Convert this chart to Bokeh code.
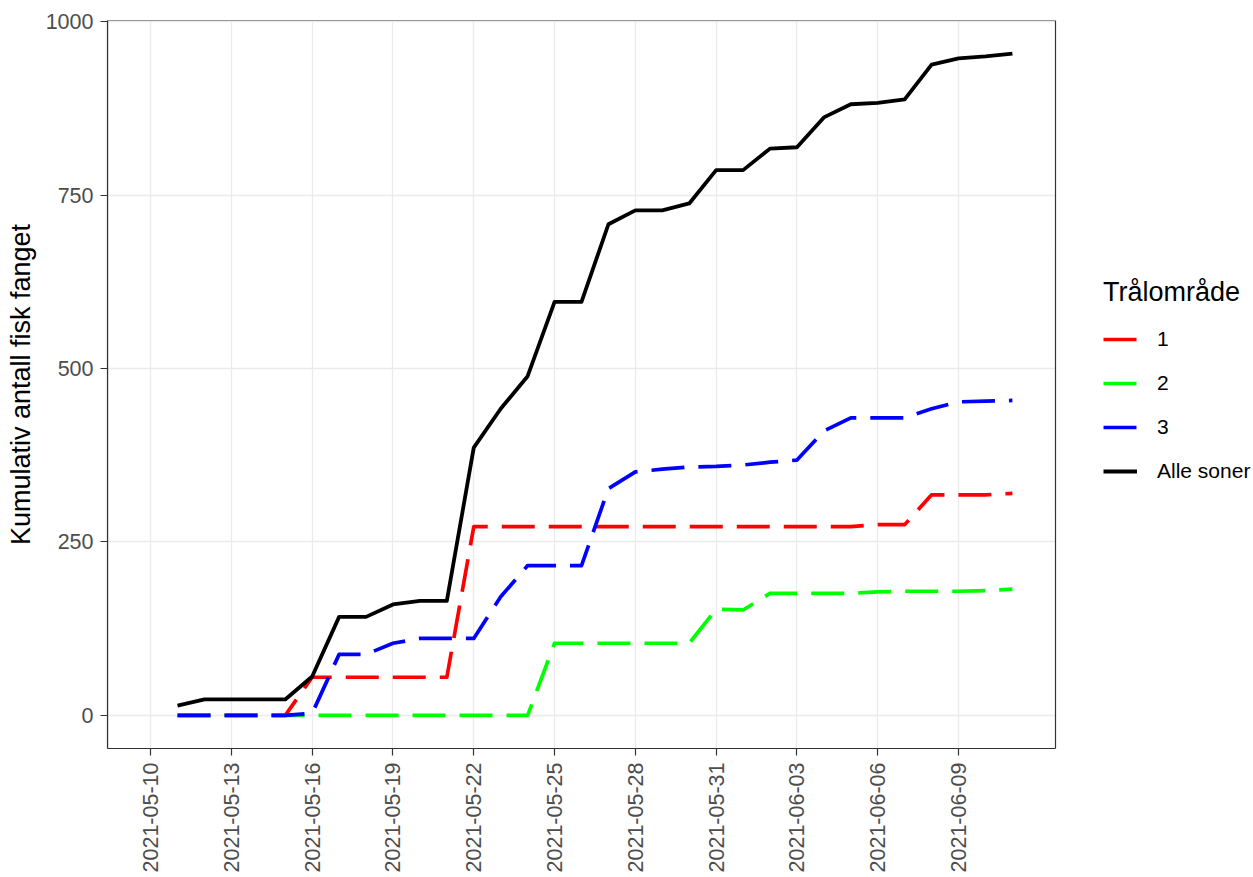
import pandas as pd
from bokeh.plotting import figure
from bokeh.models import (Range1d, FixedTicker, DatetimeTickFormatter, Legend, LegendItem,
                          ColumnDataSource, BoxAnnotation)
from bokeh.embed import file_html
from bokeh.resources import INLINE

# ---------------- data ----------------
dates = ["2021-05-11", "2021-05-12", "2021-05-13", "2021-05-14", "2021-05-15", "2021-05-16",
         "2021-05-17", "2021-05-18", "2021-05-19", "2021-05-20", "2021-05-21", "2021-05-22",
         "2021-05-23", "2021-05-24", "2021-05-25", "2021-05-26", "2021-05-27", "2021-05-28",
         "2021-05-29", "2021-05-30", "2021-05-31", "2021-06-01", "2021-06-02", "2021-06-03",
         "2021-06-04", "2021-06-05", "2021-06-06", "2021-06-07", "2021-06-08", "2021-06-09",
         "2021-06-10", "2021-06-11"]
zone1 = [0, 0, 0, 0, 0, 55, 55, 55, 55, 55, 55, 272, 272, 272, 272, 272, 272, 272, 272, 272,
         272, 272, 272, 272, 272, 272, 275, 275, 318, 318, 318, 320]
zone2 = [0, 0, 0, 0, 0, 0, 0, 0, 0, 0, 0, 0, 0, 0, 104, 104, 104, 104, 104, 104,
         153, 152, 176, 176, 176, 176, 178, 179, 179, 179, 180, 182]
zone3 = [0, 0, 0, 0, 0, 3, 88, 88, 104, 111, 111, 111, 171, 216, 216, 216, 327, 351, 355, 358,
         359, 361, 365, 368, 410, 429, 429, 429, 442, 452, 453, 454]
total = [14, 23, 23, 23, 23, 56, 142, 142, 160, 165, 165, 386, 442, 489, 596, 596, 708, 728, 728, 738,
         786, 786, 817, 819, 862, 881, 883, 888, 938, 947, 950, 954]

series_labels = ["1", "2", "3", "Alle soner"]
series_colors = ["#FF0000", "#00FF00", "#0000FF", "#000000"]
series_dash = ["33 14", "33 14", "33 14", "solid"]

tick_dates = ["2021-05-10", "2021-05-13", "2021-05-16", "2021-05-19", "2021-05-22", "2021-05-25",
              "2021-05-28", "2021-05-31", "2021-06-03", "2021-06-06", "2021-06-09"]
y_ticks = [0, 250, 500, 750, 1000]
x_limits = ["2021-05-10", "2021-06-11"]
legend_title = "Trålområde"
y_title = "Kumulativ antall fisk fanget"

FONT = "Liberation Sans"
W, H = 1253, 875
LEFT, PANEL_RIGHT, TOP, BOTTOM = 107, 1055, 20, 750
BORDER = "#333333"

# ---------------- helpers ----------------
def to_ms(s):
    return pd.Timestamp(s).value / 1e6

x_vals = pd.to_datetime(dates)
x0, x1 = to_ms(x_limits[0]), to_ms(x_limits[1])
xpad = (x1 - x0) * 0.05
panel_x0, panel_x1 = x0 - xpad, x1 + xpad
# frame extends to the canvas edge so the legend can sit to the right of the panel
frame_x1 = panel_x0 + (panel_x1 - panel_x0) * (W - LEFT) / (PANEL_RIGHT - LEFT)
ymax = max(total + zone1 + zone2 + zone3)
ymin = 0
ypad = (ymax - ymin) * 0.05
panel_y0, panel_y1 = ymin - ypad, ymax + ypad

p = figure(width=W, height=H, output_backend="svg", toolbar_location=None,
           x_axis_type="datetime",
           x_range=Range1d(panel_x0, frame_x1),
           y_range=Range1d(panel_y0, panel_y1),
           min_border_left=LEFT, min_border_right=0,
           min_border_top=TOP, min_border_bottom=H - BOTTOM)
p.background_fill_color = "white"
p.border_fill_color = "white"
p.outline_line_color = None

# axes
p.xaxis.ticker = FixedTicker(ticks=[to_ms(d) for d in tick_dates])
p.xaxis.formatter = DatetimeTickFormatter(days="%Y-%m-%d", months="%Y-%m-%d", years="%Y-%m-%d",
                                          hours="%Y-%m-%d")
p.xaxis.major_label_orientation = 1.5708
p.xaxis.bounds = (panel_x0, panel_x1)
p.yaxis.ticker = FixedTicker(ticks=y_ticks)
for ax in (p.xaxis, p.yaxis):
    ax.axis_line_color = BORDER
    ax.axis_line_width = 1.2
    ax.major_tick_line_color = BORDER
    ax.major_tick_line_width = 1.2
    ax.major_tick_out = 7
    ax.major_tick_in = 0
    ax.minor_tick_line_color = None
    ax.major_label_text_font = FONT
    ax.major_label_text_color = "#4D4D4D"
    ax.major_label_text_font_size = "21.5px"
    ax.major_label_standoff = 7
p.yaxis.axis_label = y_title
p.yaxis.axis_label_text_font = FONT
p.yaxis.axis_label_text_font_size = "27px"
p.yaxis.axis_label_text_font_style = "normal"
p.yaxis.axis_label_text_color = "black"
p.yaxis.axis_label_standoff = 7

p.xgrid.grid_line_color = "#EBEBEB"
p.ygrid.grid_line_color = "#EBEBEB"
p.xgrid.grid_line_width = 1.3
p.ygrid.grid_line_width = 1.3

# blank out the grid to the right of the panel (legend area)
p.add_layout(BoxAnnotation(left=panel_x1, fill_color="white", fill_alpha=1,
                           line_color=None, level="glyph"))
# panel border (top and right sides; left/bottom are the axis lines)
p.add_layout(BoxAnnotation(left=panel_x0, right=panel_x1, bottom=panel_y0, top=panel_y1,
                           fill_alpha=0, line_color=BORDER, line_alpha=1, line_width=1.2,
                           level="overlay"))

# lines
series = [zone1, zone2, zone3, total]
renderers = []
for vals, lab, col, dash in zip(series, series_labels, series_colors, series_dash):
    src = ColumnDataSource(dict(x=x_vals, y=vals))
    r = p.line("x", "y", source=src, line_color=col, line_width=3.8 if dash == "solid" else 3.7,
               line_dash=dash, line_join="round", line_cap="butt")
    renderers.append(r)

legend = Legend(items=[LegendItem(label=lab, renderers=[r]) for lab, r in zip(series_labels, renderers)],
                location=(996, 262), orientation="vertical")
legend.title = legend_title
legend.title_text_font = FONT
legend.title_text_font_size = "27px"
legend.title_text_font_style = "normal"
legend.title_text_color = "black"
legend.title_standoff = 16
legend.label_text_font = FONT
legend.label_text_font_size = "21px"
legend.label_text_color = "black"
legend.label_standoff = 20
legend.glyph_width = 34
legend.glyph_height = 30
legend.label_height = 30
legend.spacing = 14
legend.padding = 0
legend.margin = 0
legend.border_line_color = None
legend.background_fill_alpha = 0
legend.click_policy = "none"
p.add_layout(legend, "center")

open("out.html", "w").write(file_html(p, INLINE))
